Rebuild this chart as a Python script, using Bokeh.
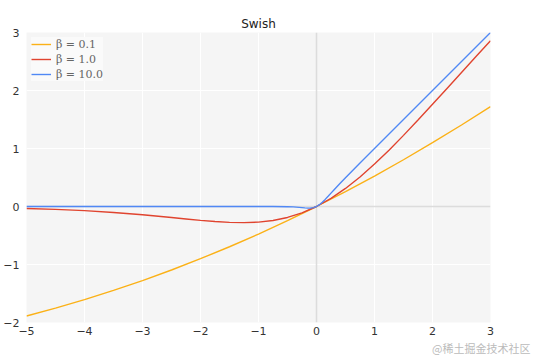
from bokeh.plotting import figure
from bokeh.models import Span, Title, FixedTicker, Legend, LegendItem
from bokeh.embed import file_html
from bokeh.resources import INLINE

# beta = 0.1
x_b01 = [-5, -4.5, -4, -3.5, -3, -2.5, -2, -1.5, -1, -0.5, 0, 0.5, 1, 1.5, 2, 2.5, 3]
y_b01 = [-1.8877, -1.7521, -1.6052, -1.4468, -1.2767, -1.0946, -0.9003, -0.6939,
         -0.4750, -0.2438, 0.0, 0.2563, 0.5250, 0.8061, 1.0997, 1.4054, 1.7233]

# beta = 1.0
x_b1 = [-5, -4.5, -4, -3.5, -3, -2.5, -2.25, -2, -1.75, -1.5, -1.25, -1, -0.75, -0.5, -0.25, 0,
        0.25, 0.5, 0.75, 1, 1.25, 1.5, 1.75, 2, 2.25, 2.5, 2.75, 3]
y_b1 = [-0.0335, -0.0494, -0.0719, -0.1026, -0.1423, -0.1896, -0.2145, -0.2384, -0.2591,
        -0.2736, -0.2784, -0.2689, -0.2406, -0.1888, -0.1095, 0.0,
        0.1405, 0.3112, 0.5094, 0.7311, 0.9716, 1.2264, 1.4909, 1.7616, 2.0355,
        2.3104, 2.5848, 2.8577]

# beta = 10.0
x_b10 = [-5, -3, -1, -0.75, -0.5, -0.4, -0.3, -0.25, -0.2, -0.15, -0.1, -0.05, 0,
         0.05, 0.1, 0.15, 0.2, 0.25, 0.3, 0.4, 0.5, 0.75, 1, 2, 3]
y_b10 = [0.0, 0.0, -0.00005, -0.0004, -0.0034, -0.0072, -0.0142, -0.0190, -0.0238,
         -0.0274, -0.0269, -0.0189, 0.0, 0.0311, 0.0731, 0.1226, 0.1762, 0.2310,
         0.2858, 0.3928, 0.4967, 0.7496, 1.0, 2.0, 3.0]

labels = ["β = 0.1", "β = 1.0", "β = 10.0"]
colors = ["#fbb117", "#e0442f", "#5088f5"]

x_ticks = [-5, -4, -3, -2, -1, 0, 1, 2, 3]
y_ticks = [-2, -1, 0, 1, 2, 3]

p = figure(width=534, height=355, x_range=(-5, 3), y_range=(-2, 3),
           output_backend="svg", toolbar_location=None,
           min_border_left=0, min_border_right=44, min_border_top=32, min_border_bottom=32)

p.title.text = "Swish"
p.title.align = "center"
p.title.text_font = "DejaVu Sans"
p.title.text_font_size = "12px"
p.title.text_font_style = "normal"
p.title.text_color = "#222222"
p.title.standoff = 3

p.background_fill_color = "#f5f5f5"
p.border_fill_color = "white"
p.outline_line_color = None

for ax in (p.xaxis[0], p.yaxis[0]):
    ax.axis_line_color = None
    ax.major_tick_line_color = None
    ax.minor_tick_line_color = None
    ax.major_tick_out = 0
    ax.major_tick_in = 0
    ax.minor_tick_out = 0
    ax.minor_tick_in = 0
    ax.major_label_text_font = "DejaVu Sans"
    ax.major_label_text_font_size = "11px"
    ax.major_label_text_color = "#333333"
p.xaxis[0].major_label_standoff = 4
p.yaxis[0].major_label_standoff = 7

p.xaxis.ticker = FixedTicker(ticks=x_ticks)
p.yaxis.ticker = FixedTicker(ticks=y_ticks)
p.xaxis.major_label_overrides = {t: str(t).replace("-", "−") for t in x_ticks}
p.yaxis.major_label_overrides = {t: str(t).replace("-", "−") for t in y_ticks}

p.xgrid.grid_line_color = "white"
p.ygrid.grid_line_color = "white"
p.xgrid.grid_line_width = 1
p.ygrid.grid_line_width = 1

p.add_layout(Span(location=0, dimension="width", line_color="#dcdcdc", line_width=1.5, level="underlay"))
p.add_layout(Span(location=0, dimension="height", line_color="#dcdcdc", line_width=1.5, level="underlay"))

r1 = p.line(x_b01, y_b01, line_color=colors[0], line_width=1.4)
r2 = p.line(x_b1, y_b1, line_color=colors[1], line_width=1.4)
r3 = p.line(x_b10, y_b10, line_color=colors[2], line_width=1.4)

legend = Legend(items=[LegendItem(label=labels[0], renderers=[r1]),
                       LegendItem(label=labels[1], renderers=[r2]),
                       LegendItem(label=labels[2], renderers=[r3])],
                location="top_left")
legend.background_fill_color = "#fafafa"
legend.background_fill_alpha = 1.0
legend.border_line_color = None
legend.label_text_font = "DejaVu Serif"
legend.label_text_font_style = "normal"
legend.label_text_font_size = "11px"
legend.label_text_color = "#666666"
legend.glyph_width = 20
legend.glyph_height = 14
legend.label_height = 14
legend.spacing = 1
legend.padding = 6
legend.margin = 5
p.add_layout(legend)

wm = Title(text="@稀土掘金技术社区", align="right", offset=-40,
           text_font="Noto Sans CJK SC", text_font_size="11px",
           text_font_style="normal", text_color="#bbbbbb", standoff=0)
p.add_layout(wm, "below")

open("out.html", "w").write(file_html(p, INLINE))
